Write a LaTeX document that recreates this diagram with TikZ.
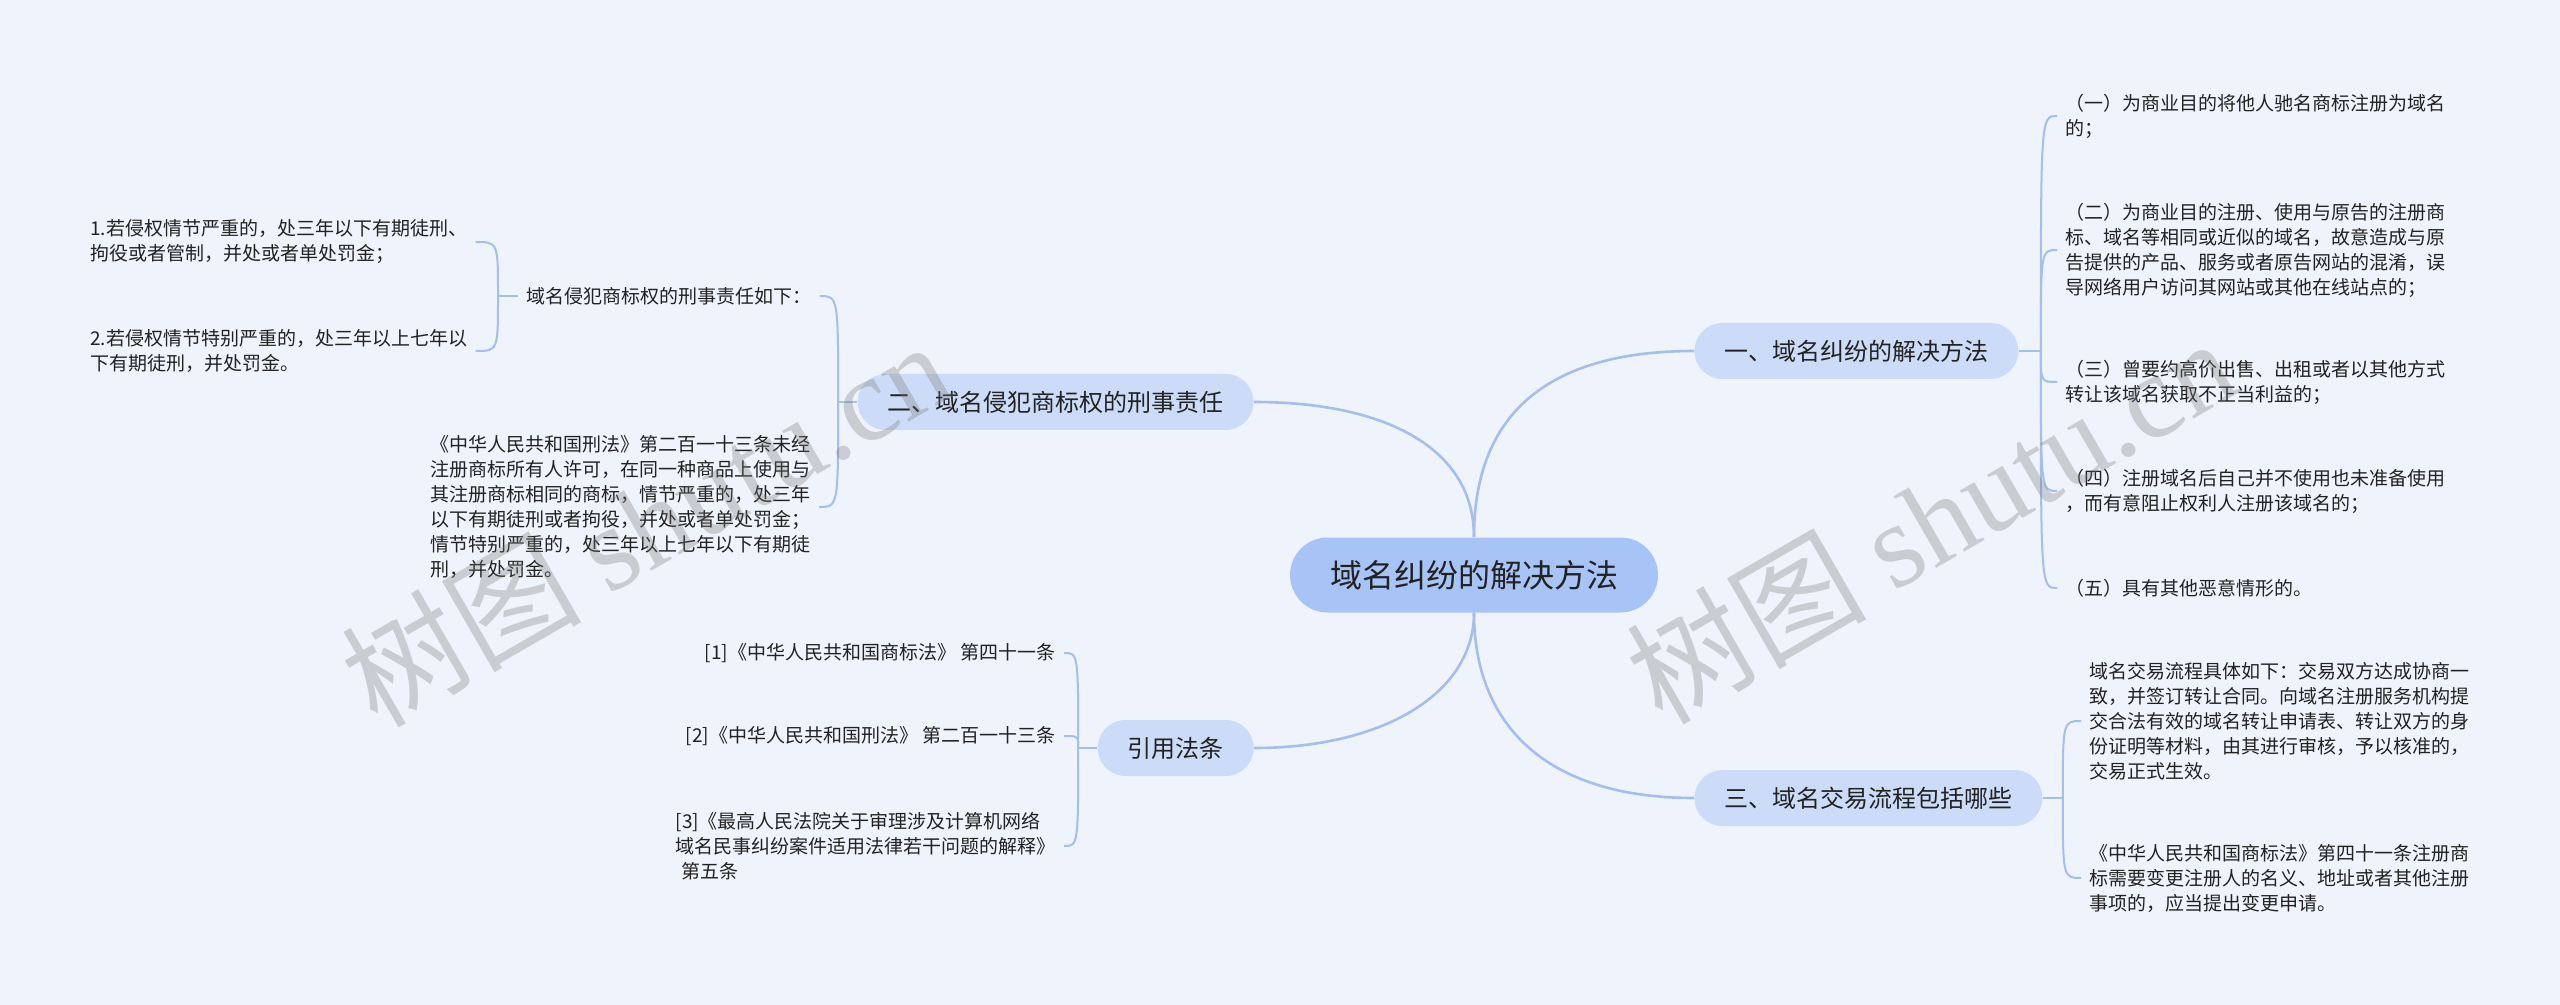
\documentclass[tikz,border=0pt]{standalone}
\usepackage{fontspec}
\newfontfamily\cjk{Noto Sans CJK SC}
\newfontfamily\wmserif{Liberation Serif}
\usetikzlibrary{calc}
\definecolor{bgc}{RGB}{239,243,251}
\definecolor{rootc}{RGB}{168,196,246}
\definecolor{branchc}{RGB}{204,220,248}
\definecolor{linec}{RGB}{166,190,236}
\definecolor{txtc}{RGB}{34,34,34}
\newcommand\bracketlink[2]{\draw[sublink] (#1) .. controls (#1 |- #2) and (#1 |- #2) .. (#2);}
\begin{document}
\begin{tikzpicture}[x=0.5pt,y=-0.5pt,
  every node/.style={font=\cjk, text=txtc},
  rootbox/.style={fill=rootc, rounded corners=18.75pt, minimum height=37.5pt, inner xsep=20pt, font=\cjk\fontsize{16}{19}\selectfont},
  branchbox/.style={fill=branchc, rounded corners=14pt, minimum height=28pt, inner xsep=15pt, font=\cjk\fontsize{12}{14}\selectfont},
  leaf/.style={align=left, inner xsep=4pt, inner ysep=2pt, font=\cjk\fontsize{9.5}{12.5}\selectfont},
  mainlink/.style={draw=linec, line width=1.3pt},
  sublink/.style={draw=linec, line width=1pt},
  wm/.style={font=\cjk\fontsize{60}{60}\selectfont, text=black!55, text opacity=0.3}]
\useasboundingbox (0,0) rectangle (2560,1005);
\fill[bgc] (0,0) rectangle (2560,1005);

% root and branches
\node[rootbox] (root) at (1474,575) {域名纠纷的解决方法};
\node[branchbox, anchor=west] (b1) at (1694,351) {一、域名纠纷的解决方法};
\node[branchbox, anchor=east] (b2) at (1254,402) {二、域名侵犯商标权的刑事责任};
\node[branchbox, anchor=west] (b3) at (1694,798) {三、域名交易流程包括哪些};
\node[branchbox, anchor=east] (b4) at (1254,748) {引用法条};

% branch 1 children
\node[leaf, anchor=west] (c1) at (2057,116) {（一）为商业目的将他人驰名商标注册为域名\\的；};
\node[leaf, anchor=west] (c2) at (2057,250) {（二）为商业目的注册、使用与原告的注册商\\标、域名等相同或近似的域名，故意造成与原\\告提供的产品、服务或者原告网站的混淆，误\\导网络用户访问其网站或其他在线站点的；};
\node[leaf, anchor=west] (c3) at (2057,382) {（三）曾要约高价出售、出租或者以其他方式\\转让该域名获取不正当利益的；};
\node[leaf, anchor=west] (c4) at (2057,491) {（四）注册域名后自己并不使用也未准备使用\\，而有意阻止权利人注册该域名的；};
\node[leaf, anchor=west] (c5) at (2057,588) {（五）具有其他恶意情形的。};

% branch 3 children
\node[leaf, anchor=west] (d1) at (2081,721) {域名交易流程具体如下：交易双方达成协商一\\致，并签订转让合同。向域名注册服务机构提\\交合法有效的域名转让申请表、转让双方的身\\份证明等材料，由其进行审核，予以核准的，\\交易正式生效。};
\node[leaf, anchor=west] (d2) at (2081,878) {《中华人民共和国商标法》第四十一条注册商\\标需要变更注册人的名义、地址或者其他注册\\事项的，应当提出变更申请。};

% branch 2 children
\node[leaf, anchor=west] (t) at (518,296) {域名侵犯商标权的刑事责任如下：};
\node[leaf, anchor=east] (p) at (819,507) {《中华人民共和国刑法》第二百一十三条未经\\注册商标所有人许可，在同一种商品上使用与\\其注册商标相同的商标，情节严重的，处三年\\以下有期徒刑或者拘役，并处或者单处罚金；\\情节特别严重的，处三年以上七年以下有期徒\\刑，并处罚金。};
\node[leaf, anchor=west] (g1) at (82,242) {1.若侵权情节严重的，处三年以下有期徒刑、\\拘役或者管制，并处或者单处罚金；};
\node[leaf, anchor=west] (g2) at (82,351) {2.若侵权情节特别严重的，处三年以上七年以\\下有期徒刑，并处罚金。};

% branch 4 children
\node[leaf, anchor=east] (r1) at (1064,653) {[1]《中华人民共和国商标法》 第四十一条};
\node[leaf, anchor=east] (r2) at (1064,736) {[2]《中华人民共和国刑法》 第二百一十三条};
\node[leaf, anchor=east] (r3) at (1064,846) {[3]《最高人民法院关于审理涉及计算机网络\\域名民事纠纷案件适用法律若干问题的解释》\\\hspace{3pt}第五条};

% main connectors
\draw[mainlink] (root.north) .. controls +(0,-120) and ($(b1.west)+(-150,0)$) .. (b1.west);
\draw[mainlink] (root.north) .. controls +(0,-90) and ($(b2.east)+(130,0)$) .. (b2.east);
\draw[mainlink] (root.south) .. controls +(0,110) and ($(b3.west)+(-150,0)$) .. (b3.west);
\draw[mainlink] (root.south) .. controls +(0,80) and ($(b4.east)+(130,0)$) .. (b4.east);

% junctions
\coordinate (j1) at ($(b1.east)+(22,0)$);
\coordinate (j2) at ($(b2.west)+(-19,0)$);
\coordinate (j3) at ($(b3.east)+(20,0)$);
\coordinate (j4) at ($(b4.west)+(-19,0)$);
\coordinate (jt) at ($(t.west)+(-20,0)$);

\draw[sublink] (b1.east) -- (j1);
\bracketlink{j1}{c1.west}
\bracketlink{j1}{c2.west}
\bracketlink{j1}{c3.west}
\bracketlink{j1}{c4.west}
\bracketlink{j1}{c5.west}

\draw[sublink] (b3.east) -- (j3);
\bracketlink{j3}{d1.west}
\bracketlink{j3}{d2.west}

\draw[sublink] (b2.west) -- (j2);
\bracketlink{j2}{t.east}
\bracketlink{j2}{p.east}

\draw[sublink] (t.west) -- (jt);
\bracketlink{jt}{g1.east}
\bracketlink{jt}{g2.east}

\draw[sublink] (b4.west) -- (j4);
\bracketlink{j4}{r1.east}
\bracketlink{j4}{r2.east}
\bracketlink{j4}{r3.east}

% watermarks
\node[wm, rotate=30] (wm1) at (645,522) {树图 {\wmserif shutu.cn}};
\node[wm, rotate=30] (wm2) at (1930,519) {树图 {\wmserif shutu.cn}};
\end{tikzpicture}
\end{document}
